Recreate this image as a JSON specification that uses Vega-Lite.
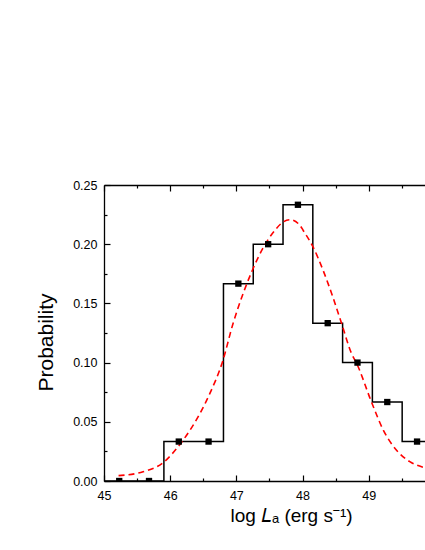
{
  "$schema": "https://vega.github.io/schema/vega-lite/v6.json",
  "width": 321,
  "height": 296,
  "autosize": "none",
  "padding": {"left": 104, "top": 185, "right": 0, "bottom": 69},
  "background": "white",
  "config": {
    "view": {"stroke": null},
    "axis": {
      "domainColor": "black",
      "domainWidth": 1.3,
      "tickColor": "black",
      "tickWidth": 1.2,
      "gridColor": "black",
      "gridWidth": 1.2,
      "gridOpacity": 1,
      "labelFont": "Liberation Sans",
      "labelFontSize": 12.5,
      "labelColor": "black",
      "titleFont": "Liberation Sans",
      "titleFontSize": 19,
      "titleFontWeight": "normal",
      "titleColor": "black"
    }
  },
  "resolve": {"axis": {"x": "independent", "y": "independent"}},
  "datasets": {
    "steps": [
      {"logL": 45.0, "p": 0},
      {"logL": 45.905, "p": 0.0333},
      {"logL": 46.805, "p": 0.1667},
      {"logL": 47.255, "p": 0.2},
      {"logL": 47.705, "p": 0.2333},
      {"logL": 48.155, "p": 0.1333},
      {"logL": 48.605, "p": 0.1},
      {"logL": 49.055, "p": 0.0667},
      {"logL": 49.505, "p": 0.0333},
      {"logL": 49.955, "p": 0.0333}
    ],
    "hist": [
      {"logL": 45.23, "p": 0},
      {"logL": 45.68, "p": 0},
      {"logL": 46.13, "p": 0.0333},
      {"logL": 46.58, "p": 0.0333},
      {"logL": 47.03, "p": 0.1667},
      {"logL": 47.48, "p": 0.2},
      {"logL": 47.93, "p": 0.2333},
      {"logL": 48.38, "p": 0.1333},
      {"logL": 48.83, "p": 0.1},
      {"logL": 49.28, "p": 0.0667},
      {"logL": 49.73, "p": 0.0333}
    ],
    "fit": [
      {"logL": 45.22, "p": 0.0045},
      {"logL": 45.59, "p": 0.0078},
      {"logL": 45.90, "p": 0.0158},
      {"logL": 46.12, "p": 0.029},
      {"logL": 46.30, "p": 0.043},
      {"logL": 46.45, "p": 0.057},
      {"logL": 46.60, "p": 0.074},
      {"logL": 46.79, "p": 0.1006},
      {"logL": 46.95, "p": 0.133},
      {"logL": 47.10, "p": 0.158},
      {"logL": 47.23, "p": 0.1765},
      {"logL": 47.41, "p": 0.1975},
      {"logL": 47.58, "p": 0.2116},
      {"logL": 47.70, "p": 0.2185},
      {"logL": 47.81, "p": 0.2207},
      {"logL": 47.96, "p": 0.216},
      {"logL": 48.01, "p": 0.2116},
      {"logL": 48.16, "p": 0.1975},
      {"logL": 48.31, "p": 0.178},
      {"logL": 48.46, "p": 0.155},
      {"logL": 48.59, "p": 0.133},
      {"logL": 48.74, "p": 0.1077},
      {"logL": 48.82, "p": 0.099},
      {"logL": 49.04, "p": 0.0669},
      {"logL": 49.22, "p": 0.043},
      {"logL": 49.42, "p": 0.026},
      {"logL": 49.62, "p": 0.0163},
      {"logL": 49.82, "p": 0.0116}
    ]
  },
  "layer": [
    {
      "data": {"name": "steps"},
      "mark": {"type": "line", "interpolate": "step-after", "color": "black", "strokeWidth": 1.5, "clip": true},
      "encoding": {
        "x": {
          "field": "logL", "type": "quantitative",
          "scale": {"domain": [45, 49.85], "nice": false, "zero": false},
          "axis": {
            "orient": "bottom",
            "title": "log 𝐿ₐ (erg s⁻¹)",
            "values": [45, 46, 47, 48, 49],
            "format": "d",
            "ticks": false,
            "grid": true,
            "gridDash": [6, 284, 6, 1000],
            "labelPadding": 8,
            "labelFlush": false,
            "titleX": 187,
            "titleY": 40,
            "titleBaseline": "alphabetic"
          }
        },
        "y": {
          "field": "p", "type": "quantitative",
          "scale": {"domain": [0, 0.25], "nice": false},
          "axis": {
            "orient": "left",
            "title": "Probability",
            "titleFontSize": 21,
            "values": [0, 0.05, 0.1, 0.15, 0.2, 0.25],
            "format": ".2f",
            "tickSize": -6,
            "grid": false,
            "labelPadding": 13,
            "labelFlush": false,
            "titleX": -52,
            "titleY": 157,
            "titleBaseline": "alphabetic"
          }
        }
      }
    },
    {
      "data": {"name": "fit"},
      "mark": {"type": "line", "interpolate": "monotone", "color": "#ff0000", "strokeWidth": 1.6, "strokeDash": [6, 4], "clip": true},
      "encoding": {
        "x": {
          "field": "logL", "type": "quantitative",
          "axis": {
            "orient": "bottom",
            "title": null,
            "labels": false,
            "domain": false,
            "ticks": false,
            "values": [45.5, 46.5, 47.5, 48.5, 49.5],
            "grid": true,
            "gridDash": [3, 290, 3, 1000]
          }
        },
        "y": {
          "field": "p", "type": "quantitative",
          "axis": {
            "orient": "left",
            "title": null,
            "labels": false,
            "domain": false,
            "grid": false,
            "values": [0.025, 0.075, 0.125, 0.175, 0.225],
            "tickSize": -3
          }
        }
      }
    },
    {
      "data": {"name": "hist"},
      "mark": {"type": "point", "shape": "square", "filled": true, "color": "black", "size": 40, "opacity": 1, "clip": true},
      "encoding": {
        "x": {
          "field": "logL", "type": "quantitative",
          "axis": {
            "orient": "top",
            "title": null,
            "labels": false,
            "ticks": false,
            "grid": false,
            "domain": true
          }
        },
        "y": {
          "field": "p", "type": "quantitative",
          "axis": {
            "orient": "left",
            "title": null,
            "labels": false,
            "ticks": false,
            "grid": false,
            "domain": false
          }
        }
      }
    }
  ]
}
